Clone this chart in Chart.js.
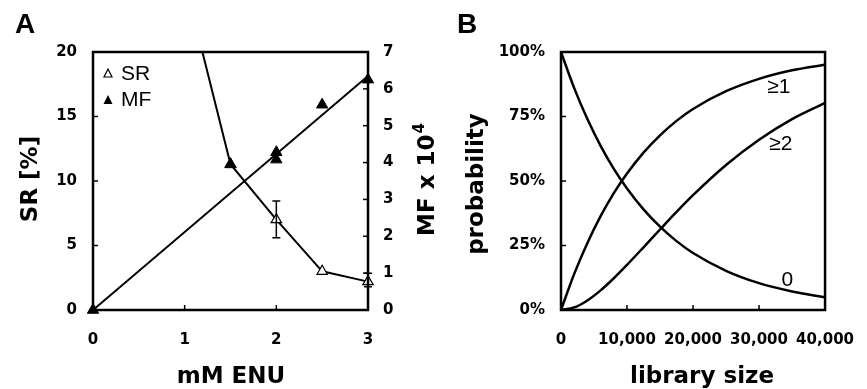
<!DOCTYPE html>
<html>
<head>
<meta charset="utf-8">
<script src="https://cdn.jsdelivr.net/npm/chart.js@4"></script>
<style>
  body { margin: 0; background: #fff; }
  #wrap { position: relative; width: 867px; height: 389px; }
  #chartA { position: absolute; left: 0; top: 0; }
  #chartB { position: absolute; left: 445px; top: 0; }
</style>
</head>
<body>
<div id="wrap">
  <canvas id="chartA" width="445" height="389"></canvas>
  <canvas id="chartB" width="422" height="389"></canvas>
</div>
<script>
// Panel A data
const doseSR = [0, 1, 1.5, 2, 2.5, 3];
const srValues = [100, 25.5, 11.3, 7.0, 3.0, 2.2];
const srErrDose = [2, 3];
const srErrLow = [5.6, 1.8];
const srErrHigh = [8.45, 2.85];
const doseMF = [0, 1.5, 2, 2, 2.5, 3];
const mfValues = [0, 3.95, 4.28, 4.08, 5.57, 6.25];
const fitDose = [0, 3];
const fitMF = [0, 6.35];

// Panel B data
const libSize = [0, 2000, 4000, 6000, 8000, 10000, 12500, 15000, 17500, 20000, 25000, 30000, 35000, 40000];
const prob0 = [100, 86.0, 74.0, 63.6, 54.7, 47.1, 39.0, 32.3, 26.7, 22.1, 15.2, 10.4, 7.2, 4.9];
const prob1 = [0, 14.0, 26.0, 36.4, 45.3, 52.9, 61.0, 67.7, 73.3, 77.9, 84.8, 89.6, 92.9, 95.1];
const prob2 = [0, 1.0, 3.7, 7.6, 12.3, 17.5, 24.3, 31.2, 38.0, 44.5, 56.2, 66.0, 74.0, 80.3];

const FONT = "'Liberation Sans', Arial, sans-serif";
const BOLD = "'DejaVu Sans', sans-serif";
const tickFont = { family: BOLD, size: 15, weight: 'bold' };
const titleFont = 'bold 23px ' + BOLD;

function pairs(xs, ys) {
    return xs.map((x, i) => ({ x: x, y: ys[i] }));
}

// draws the box and the inward tick marks
function frameBox(ticksDef) {
    return {
        id: 'frameBox',
        afterDraw(chart) {
            const ctx = chart.ctx;
            const a = chart.chartArea;
            ctx.save();
            ctx.strokeStyle = '#000';
            ctx.lineWidth = 1.5;
            ticksDef.forEach(t => {
                const sc = chart.scales[t.axis];
                t.values.forEach(v => {
                    const p = sc.getPixelForValue(v);
                    ctx.beginPath();
                    if (t.side === 'bottom') { ctx.moveTo(p, a.bottom); ctx.lineTo(p, a.bottom - 5); }
                    if (t.side === 'left') { ctx.moveTo(a.left, p); ctx.lineTo(a.left + 5, p); }
                    if (t.side === 'right') { ctx.moveTo(a.right, p); ctx.lineTo(a.right - 5, p); }
                    ctx.stroke();
                });
            });
            ctx.lineWidth = 2.5;
            ctx.strokeRect(a.left, a.top, a.right - a.left, a.bottom - a.top);
            ctx.restore();
        }
    };
}

function vText(ctx, txt, x, y, font) {
    ctx.save();
    ctx.translate(x, y);
    ctx.rotate(-Math.PI / 2);
    ctx.font = font;
    ctx.textAlign = 'center';
    ctx.textBaseline = 'middle';
    ctx.fillText(txt, 0, 0);
    ctx.restore();
}

// Panel A extras: error bars, legend, titles
const panelAExtras = {
    id: 'panelAExtras',
    afterDatasetsDraw(chart) {
        const ctx = chart.ctx;
        const xs = chart.scales.x, ys = chart.scales.y;
        ctx.save();
        ctx.strokeStyle = '#000';
        ctx.lineWidth = 1.5;
        srErrDose.forEach((d, i) => {
            const px = xs.getPixelForValue(d);
            const lo = ys.getPixelForValue(srErrLow[i]);
            const hi = ys.getPixelForValue(srErrHigh[i]);
            ctx.beginPath();
            ctx.moveTo(px, lo); ctx.lineTo(px, hi);
            ctx.moveTo(px - 4, lo); ctx.lineTo(px + 4, lo);
            ctx.moveTo(px - 4, hi); ctx.lineTo(px + 4, hi);
            ctx.stroke();
        });
        ctx.restore();
    },
    afterDraw(chart) {
        const ctx = chart.ctx;
        ctx.save();
        ctx.fillStyle = '#000';
        // legend
        ctx.lineWidth = 1.2;
        ctx.beginPath();
        ctx.moveTo(108, 69); ctx.lineTo(112, 77); ctx.lineTo(104, 77); ctx.closePath();
        ctx.stroke();
        ctx.beginPath();
        ctx.moveTo(108, 95); ctx.lineTo(112.5, 104); ctx.lineTo(103.5, 104); ctx.closePath();
        ctx.fill();
        ctx.font = '21px ' + FONT;
        ctx.textAlign = 'left';
        ctx.textBaseline = 'middle';
        ctx.fillText('SR', 121, 74);
        ctx.fillText('MF', 121, 100);
        // panel letter
        ctx.font = 'bold 28px ' + FONT;
        ctx.textAlign = 'center';
        ctx.fillText('A', 25, 25);
        // axis titles
        ctx.font = titleFont;
        ctx.fillText('mM ENU', 231, 377);
        vText(ctx, 'SR [%]', 31, 179, titleFont);
        ctx.translate(428, 180);
        ctx.rotate(-Math.PI / 2);
        ctx.textAlign = 'left';
        ctx.font = titleFont;
        const main = 'MF x 10';
        const w = ctx.measureText(main).width;
        ctx.font = 'bold 15px ' + BOLD;
        const w4 = ctx.measureText('4').width;
        const start = -(w + w4) / 2;
        ctx.font = titleFont;
        ctx.fillText(main, start, 0);
        ctx.font = 'bold 15px ' + BOLD;
        ctx.fillText('4', start + w + 1, -8);
        ctx.restore();
    }
};

new Chart(document.getElementById('chartA'), {
    type: 'line',
    data: {
        datasets: [
            {
                label: 'SR',
                data: pairs(doseSR, srValues),
                yAxisID: 'y',
                order: 2,
                borderColor: '#000',
                borderWidth: 2,
                pointStyle: 'triangle',
                pointRadius: 6,
                pointBackgroundColor: '#fff',
                pointBorderColor: '#000',
                pointBorderWidth: 1.2,
                tension: 0,
                clip: { left: 10, right: 10, top: 0, bottom: 10 }
            },
            {
                label: 'MF fit',
                data: pairs(fitDose, fitMF),
                yAxisID: 'y1',
                order: 3,
                borderColor: '#000',
                borderWidth: 2,
                pointRadius: 0,
                tension: 0
            },
            {
                label: 'MF',
                data: pairs(doseMF, mfValues),
                yAxisID: 'y1',
                order: 1,
                showLine: false,
                pointStyle: 'triangle',
                pointRadius: 6.5,
                pointBackgroundColor: '#000',
                pointBorderColor: '#000',
                clip: { left: 10, right: 10, top: 0, bottom: 10 }
            }
        ]
    },
    options: {
        responsive: false,
        animation: false,
        layout: { padding: { top: 52, left: 0, right: 0, bottom: 0 } },
        plugins: { legend: { display: false }, tooltip: { enabled: false } },
        scales: {
            x: {
                type: 'linear', min: 0, max: 3,
                grid: { display: false }, border: { display: false },
                ticks: { stepSize: 1, padding: 13, color: '#000', font: tickFont },
                afterFit(s) { s.height = 79; }
            },
            y: {
                position: 'left', min: 0, max: 20,
                grid: { display: false }, border: { display: false },
                ticks: { stepSize: 5, padding: 8, color: '#000', font: tickFont },
                afterFit(s) { s.width = 93; }
            },
            y1: {
                position: 'right', min: 0, max: 7,
                grid: { display: false }, border: { display: false },
                ticks: { stepSize: 1, padding: 7, color: '#000', font: tickFont },
                afterFit(s) { s.width = 77; }
            }
        }
    },
    plugins: [frameBox([
        { axis: 'x', side: 'bottom', values: [1, 2] },
        { axis: 'y', side: 'left', values: [5, 10, 15] },
        { axis: 'y1', side: 'right', values: [1, 2, 3, 4, 5, 6] }
    ]), panelAExtras]
});

// Panel B extras: curve labels and titles
const panelBExtras = {
    id: 'panelBExtras',
    afterDraw(chart) {
        const ctx = chart.ctx;
        const xs = chart.scales.x, ys = chart.scales.y;
        ctx.save();
        ctx.fillStyle = '#000';
        ctx.font = '21px ' + FONT;
        ctx.textAlign = 'center';
        ctx.textBaseline = 'middle';
        ctx.fillText('\u22651', xs.getPixelForValue(33000), ys.getPixelForValue(86.5));
        ctx.fillText('\u22652', xs.getPixelForValue(33300), ys.getPixelForValue(64.4));
        ctx.fillText('0', xs.getPixelForValue(34300), ys.getPixelForValue(11.6));
        ctx.font = 'bold 28px ' + FONT;
        ctx.fillText('B', 22, 25);
        ctx.font = titleFont;
        ctx.fillText('library size', 257, 377);
        vText(ctx, 'probability', 32, 184, titleFont);
        ctx.restore();
    }
};

function curve(label, values) {
    return {
        label: label,
        data: pairs(libSize, values),
        borderColor: '#000',
        borderWidth: 2.5,
        pointRadius: 0,
        cubicInterpolationMode: 'monotone'
    };
}

new Chart(document.getElementById('chartB'), {
    type: 'line',
    data: {
        datasets: [curve('0', prob0), curve('>=1', prob1), curve('>=2', prob2)]
    },
    options: {
        responsive: false,
        animation: false,
        layout: { padding: { top: 52, left: 0, right: 31, bottom: 0 } },
        plugins: { legend: { display: false }, tooltip: { enabled: false } },
        scales: {
            x: {
                type: 'linear', min: 0, max: 40000,
                grid: { display: false }, border: { display: false },
                ticks: {
                    stepSize: 10000, padding: 13, color: '#000', font: tickFont,
                    maxRotation: 0, autoSkip: false,
                    callback: v => v.toLocaleString('en-US')
                },
                afterFit(s) { s.height = 79; }
            },
            y: {
                min: 0, max: 100,
                grid: { display: false }, border: { display: false },
                ticks: { stepSize: 25, padding: 8, color: '#000', font: tickFont, callback: v => v + '%' },
                afterFit(s) { s.width = 116; }
            }
        }
    },
    plugins: [frameBox([
        { axis: 'x', side: 'bottom', values: [10000, 20000, 30000] },
        { axis: 'y', side: 'left', values: [25, 50, 75] }
    ]), panelBExtras]
});
</script>
</body>
</html>
